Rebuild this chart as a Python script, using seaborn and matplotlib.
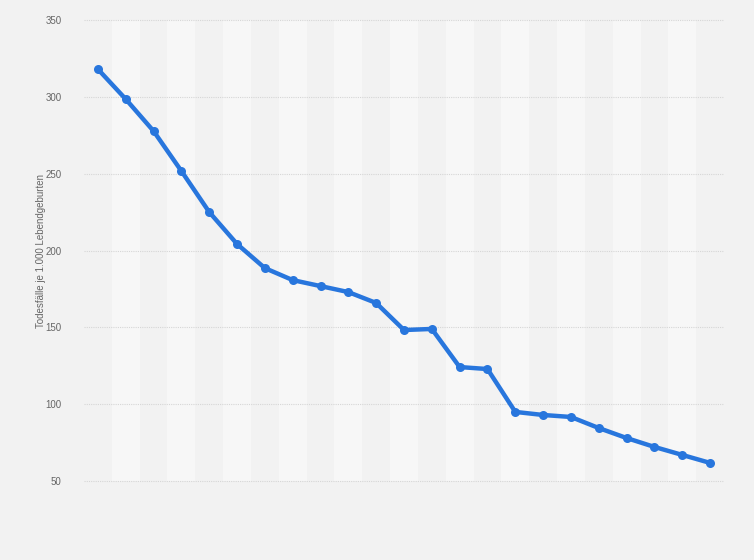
import matplotlib
matplotlib.use("Agg")
import matplotlib.pyplot as plt
import seaborn as sns
import pandas as pd

# values (no x labels are shown there)
points = list(range(1, 24))
deaths = [318.1, 298.6, 277.8, 251.8, 225.1, 204.3, 188.6, 180.8, 176.9, 173.0,
          165.9, 148.3, 149.0, 124.2, 122.9, 95.0, 93.0, 91.7, 84.5, 78.0,
          72.2, 67.0, 61.8]
y_ticks = [50, 100, 150, 200, 250, 300, 350]
y_label = 'Todesfälle je 1.000 Lebendgeburten'

df = pd.DataFrame({'point': points, 'deaths': deaths})

sns.set_style('white')
plt.rcParams['font.family'] = ['Arial', 'Liberation Sans', 'DejaVu Sans']

fig = plt.figure(figsize=(7.54, 5.6), dpi=100, facecolor='#f2f2f2')
ax = fig.add_axes([0.1114, 0.141, 0.8488, 0.823])
ax.set_facecolor('#f2f2f2')

# alternating column stripes
for i, p in enumerate(points):
    if i % 2 == 1:
        ax.axvspan(p - 0.5, p + 0.5, color='#f7f7f7', zorder=0, lw=0)

sns.lineplot(data=df, x='point', y='deaths', ax=ax, color='#2876dd',
             linewidth=3.2, marker='o', markersize=6.5, markeredgewidth=0,
             zorder=3)

ax.set_xlim(points[0] - 0.5, points[-1] + 0.5)
ax.set_ylim(y_ticks[0], y_ticks[-1])
ax.set_yticks(y_ticks)
ax.set_xticks([])
ax.yaxis.grid(True, color='#d6d6d6', linestyle=(0, (1, 1)), linewidth=0.8)
for gl in ax.get_ygridlines():
    gl.set_clip_on(False)
ax.set_axisbelow(True)
for s in ax.spines.values():
    s.set_visible(False)
ax.tick_params(axis='y', length=0, pad=16, labelsize=7, labelcolor='#666666')
ax.set_xlabel('')
ax.set_ylabel(y_label, fontsize=7, color='#666666', labelpad=0)

fig.savefig('out.png', dpi=100, facecolor=fig.get_facecolor())
